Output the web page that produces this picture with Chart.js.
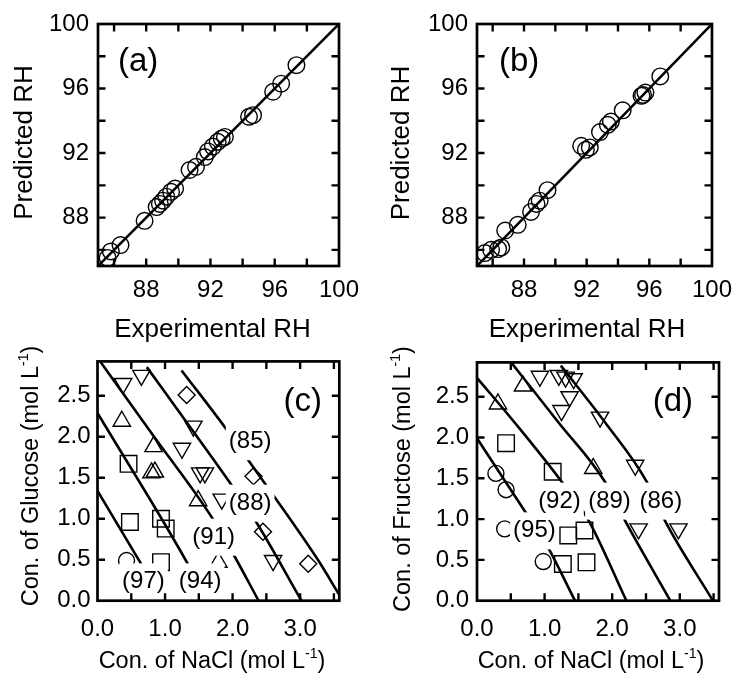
<!DOCTYPE html>
<html>
<head>
<meta charset="utf-8">
<script src="https://cdn.jsdelivr.net/npm/chart.js@4.4.1/dist/chart.umd.min.js"></script>
<style>
  html, body { margin: 0; padding: 0; background: #fff; }
  #wrap { position: relative; width: 742px; height: 675px; overflow: hidden; background: #fff; }
  #wrap canvas { position: absolute; }
</style>
</head>
<body>
<div id="wrap">
  <canvas id="pa" width="371" height="350" style="left:0px;top:0px"></canvas>
  <canvas id="pb" width="371" height="350" style="left:371px;top:0px"></canvas>
  <canvas id="pc" width="371" height="335" style="left:0px;top:340px"></canvas>
  <canvas id="pd" width="371" height="335" style="left:371px;top:340px"></canvas>
</div>
<script>
const FONT = "'Liberation Sans', Arial, Helvetica, sans-serif";

// ---- axis ticks ----
const rhTicks = [86, 88, 90, 92, 94, 96, 98, 100];
const rhTickLabels = ['', '88', '', '92', '', '96', '', '100'];
const naclTicks = [0, 0.5, 1, 1.5, 2, 2.5, 3, 3.5];
const naclTickLabels = ['0.0', '', '1.0', '', '2.0', '', '3.0', ''];
const sugarTicks = [0, 0.5, 1, 1.5, 2, 2.5];
const sugarTickLabels = ['0.0', '0.5', '1.0', '1.5', '2.0', '2.5'];

// ---- (a) glucose + NaCl: experimental vs predicted RH ----
const expRH_glucose  = [85.6, 85.8, 86.4, 87.9, 88.65, 88.85, 89.05, 89.25, 89.55, 89.8, 90.7, 91.1, 91.65, 91.85, 92.15, 92.45, 92.7, 92.9, 94.4, 94.65, 95.9, 96.4, 97.35];
const predRH_glucose = [85.5, 85.9, 86.3, 87.8, 88.65, 88.85, 89.05, 89.3, 89.6, 89.8, 90.95, 91.15, 91.75, 92.1, 92.4, 92.7, 92.9, 93.0, 94.25, 94.35, 95.8, 96.3, 97.45];

// ---- (b) fructose + NaCl: experimental vs predicted RH ----
const expRH_fructose  = [85.5, 85.9, 86.35, 86.55, 86.8, 87.6, 88.45, 88.8, 89.0, 89.5, 91.65, 91.95, 92.2, 92.85, 93.35, 93.55, 94.3, 95.5, 95.75, 95.6, 96.7];
const predRH_fructose = [85.8, 86.0, 86.05, 86.15, 87.2, 87.55, 88.35, 88.85, 89.05, 89.7, 92.45, 92.2, 92.35, 93.3, 93.75, 93.95, 94.65, 95.55, 95.75, 95.6, 96.75];

// 1:1 line
const parityRH = [85, 100];

// ---- (c) glucose + NaCl compositions (mol/L), by marker ----
const gluCircleNaCl  = [0.43];
const gluCircleGlu   = [0.49];
const gluSquareNaCl  = [0.46, 0.48, 0.94, 1.01, 0.94];
const gluSquareGlu   = [1.67, 0.96, 1.00, 0.88, 0.47];
const gluUpNaCl      = [0.36, 0.83, 0.80, 0.85, 1.49, 1.79];
const gluUpGlu       = [2.19, 1.88, 1.56, 1.57, 1.22, 0.47];
const gluDownNaCl    = [0.38, 0.65, 1.25, 1.42, 1.52, 1.59, 1.84, 2.60];
const gluDownGlu     = [2.65, 2.75, 1.86, 2.13, 1.56, 1.56, 1.24, 0.49];
const gluDiamondNaCl = [1.32, 2.31, 2.45, 3.12];
const gluDiamondGlu  = [2.51, 1.52, 0.84, 0.45];

// (c) iso-RH curves
const gluCurve97NaCl = [0, 0.63, 0.97];
const gluCurve97Glu  = [1.34, 0.47, 0];
const gluCurve94NaCl = [0, 1.39, 1.62];
const gluCurve94Glu  = [2.29, 0.37, 0];
const gluCurve91NaCl = [0.03, 0.83, 1.69, 2.01, 2.385];
const gluCurve91Glu  = [2.93, 2.01, 1.02, 0.57, 0];
const gluCurve88NaCl = [0.73, 1.37, 2.01, 2.35, 3.02];
const gluCurve88Glu  = [2.85, 2.12, 1.38, 0.96, 0];
const gluCurve85NaCl = [1.245, 1.91, 2.21, 3.27, 3.58];
const gluCurve85Glu  = [2.81, 2.09, 1.74, 0.49, 0.07];
const gluCurveText   = ['(97)', '(94)', '(91)', '(88)', '(85)'];
const gluCurveTextX  = [0.68, 1.52, 1.72, 2.26, 2.26];
const gluCurveTextY  = [0.23, 0.23, 0.775, 1.19, 1.94];

// ---- (d) fructose + NaCl compositions (mol/L), by marker ----
const fruCircleNaCl = [0.28, 0.43, 0.41, 0.98];
const fruCircleFru  = [1.56, 1.36, 0.88, 0.48];
const fruSquareNaCl = [0.43, 1.12, 1.35, 1.59, 1.27, 1.62];
const fruSquareFru  = [1.93, 1.58, 0.80, 0.86, 0.45, 0.47];
const fruUpNaCl     = [0.31, 0.68, 1.72];
const fruUpFru      = [2.41, 2.63, 1.62];
const fruDownNaCl   = [0.93, 1.21, 1.31, 1.43, 1.37, 1.25, 1.82, 2.34, 2.39, 2.98];
const fruDownFru    = [2.75, 2.76, 2.74, 2.72, 2.50, 2.33, 2.25, 1.66, 0.88, 0.88];

// (d) iso-RH curves
const fruCurve95NaCl = [0, 0.80, 1.00, 1.45];
const fruCurve95Fru  = [1.99, 0.98, 0.73, 0];
const fruCurve92NaCl = [0, 0.55, 1.25, 1.64, 2.21];
const fruCurve92Fru  = [2.73, 2.19, 1.46, 1.00, 0];
const fruCurve89NaCl = [0.505, 1.20, 1.89, 2.19, 2.86];
const fruCurve89Fru  = [2.92, 2.19, 1.46, 0.98, 0];
const fruCurve86NaCl = [1.24, 1.89, 2.51, 2.78, 3.49];
const fruCurve86Fru  = [2.88, 2.19, 1.46, 0.98, 0];
const fruCurveText   = ['(95)', '(92)', '(89)', '(86)'];
const fruCurveTextX  = [0.85, 1.22, 1.96, 2.72];
const fruCurveTextY  = [0.856, 1.22, 1.22, 1.22];

// ---------------------------------------------------------------
const pts = (xs, ys) => xs.map((x, i) => ({ x, y: ys[i] }));

function markerSet(xs, ys, style, radius, rotation) {
  return {
    data: pts(xs, ys), showLine: false,
    pointStyle: style, pointRadius: radius, pointRotation: rotation || 0,
    pointBorderColor: '#000', pointBackgroundColor: 'rgba(0,0,0,0)',
    pointBorderWidth: 1.4, borderWidth: 1.4, borderColor: '#000',
    backgroundColor: 'rgba(0,0,0,0)'
  };
}
function curveSet(xs, ys) {
  return {
    data: pts(xs, ys), showLine: true, pointRadius: 0,
    borderColor: '#000', borderWidth: 2.6, cubicInterpolationMode: 'monotone'
  };
}

function richTitle(ctx, parts, size, x, y, rotated) {
  const supSize = size * 0.6;
  let total = 0;
  const widths = parts.map(p => {
    ctx.font = `${p.sup ? supSize : size}px ${FONT}`;
    const w = ctx.measureText(p.text).width;
    total += w;
    return w;
  });
  ctx.save();
  ctx.translate(x, y);
  if (rotated) ctx.rotate(-Math.PI / 2);
  ctx.fillStyle = '#000';
  ctx.textAlign = 'left';
  ctx.textBaseline = 'alphabetic';
  let cx = -total / 2;
  parts.forEach((p, i) => {
    ctx.font = `${p.sup ? supSize : size}px ${FONT}`;
    ctx.fillText(p.text, cx, p.sup ? -size * 0.42 : 0);
    cx += widths[i];
  });
  ctx.restore();
}

// frame, inward ticks on all four sides, titles, tag and curve labels
function decor(panel) {
  return {
    id: 'decor_' + panel.canvas,
    afterDatasetsDraw(chart) {
      const { ctx, scales: { x, y } } = chart;
      ctx.save();
      ctx.font = `24px ${FONT}`;
      ctx.textAlign = 'center';
      ctx.textBaseline = 'middle';
      (panel.notes || []).forEach(n => {
        const px = x.getPixelForValue(n.x), py = y.getPixelForValue(n.y);
        const w = ctx.measureText(n.text).width;
        ctx.fillStyle = '#fff';
        ctx.fillRect(px - w / 2 - 3, py - 18.5, w + 6, 37);
        ctx.fillStyle = '#000';
        ctx.fillText(n.text, px, py);
      });
      ctx.restore();
    },
    afterDraw(chart) {
      const { ctx, chartArea: a, scales: { x, y } } = chart;
      ctx.save();
      ctx.strokeStyle = '#000';
      ctx.lineCap = 'butt';
      // ticks
      const L = 7.5;
      ctx.lineWidth = 2.4;
      ctx.beginPath();
      x.ticks.forEach(t => {
        if (t.value <= x.min || t.value >= x.max) return;
        const px = x.getPixelForValue(t.value);
        ctx.moveTo(px, a.bottom); ctx.lineTo(px, a.bottom - L);
        ctx.moveTo(px, a.top); ctx.lineTo(px, a.top + L);
      });
      y.ticks.forEach(t => {
        if (t.value <= y.min || t.value >= y.max) return;
        const py = y.getPixelForValue(t.value);
        ctx.moveTo(a.left, py); ctx.lineTo(a.left + L, py);
        ctx.moveTo(a.right, py); ctx.lineTo(a.right - L, py);
      });
      ctx.stroke();
      // frame
      ctx.lineWidth = 2.7;
      ctx.strokeRect(a.left, a.top, a.right - a.left, a.bottom - a.top);
      // axis titles
      const xt = panel.xTitle, yt = panel.yTitle;
      richTitle(ctx, xt.parts, xt.size, xt.x, xt.y, false);
      richTitle(ctx, yt.parts, yt.size, yt.x, yt.y, true);
      // panel tag
      ctx.fillStyle = '#000';
      ctx.font = `33px ${FONT}`;
      ctx.textBaseline = 'alphabetic';
      ctx.textAlign = panel.tag.align;
      ctx.fillText(panel.tag.text, panel.tag.x, panel.tag.y);
      ctx.restore();
    }
  };
}

function axis(spec, horizontal, size) {
  return {
    type: 'linear', min: spec.min, max: spec.max,
    position: horizontal ? 'bottom' : 'left',
    grid: { display: false, drawTicks: false },
    border: { display: false },
    title: { display: false },
    afterBuildTicks: s => { s.ticks = spec.ticks.map(v => ({ value: v })); },
    afterFit: s => { if (horizontal) s.height = size; else s.width = size; },
    ticks: {
      autoSkip: false, maxRotation: 0, minRotation: 0,
      padding: spec.pad, color: '#000',
      font: { family: FONT, size: 24 },
      callback: (v, i) => spec.labels[i]
    }
  };
}

function build(panel) {
  const a = panel.area;
  new Chart(document.getElementById(panel.canvas), {
    type: 'scatter',
    data: { datasets: panel.datasets },
    options: {
      responsive: false, animation: false, devicePixelRatio: 1, events: [],
      layout: { padding: { left: 0, top: a.t, right: panel.w - a.r, bottom: 0 } },
      plugins: { legend: { display: false }, tooltip: { enabled: false } },
      scales: {
        x: axis(panel.x, true, panel.h - a.b),
        y: axis(panel.y, false, a.l)
      }
    },
    plugins: [decor(panel)]
  });
}

const notes = (t, xs, ys) => t.map((text, i) => ({ text, x: xs[i], y: ys[i] }));
const perMolL = (name) => [{ text: name + ' (mol L' }, { text: '-1', sup: true }, { text: ')' }];

build({
  canvas: 'pa', w: 371, h: 350, area: { l: 98, t: 24, r: 339, b: 266 },
  x: { min: 85, max: 100, ticks: rhTicks, labels: rhTickLabels, pad: 10 },
  y: { min: 85, max: 100, ticks: rhTicks, labels: rhTickLabels, pad: 9 },
  tag: { text: '(a)', x: 118, y: 71, align: 'left' },
  xTitle: { parts: [{ text: 'Experimental RH' }], size: 26, x: 212.5, y: 337 },
  yTitle: { parts: [{ text: 'Predicted RH' }], size: 26, x: 31.5, y: 142.5 },
  datasets: [
    markerSet(expRH_glucose, predRH_glucose, 'circle', 8.3),
    curveSet(parityRH, parityRH)
  ]
});

build({
  canvas: 'pb', w: 371, h: 350, area: { l: 106, t: 24, r: 348, b: 266 },
  x: { min: 85, max: 100, ticks: rhTicks, labels: rhTickLabels, pad: 10 },
  y: { min: 85, max: 100, ticks: rhTicks, labels: rhTickLabels, pad: 9 },
  tag: { text: '(b)', x: 128, y: 71, align: 'left' },
  xTitle: { parts: [{ text: 'Experimental RH' }], size: 26, x: 216, y: 337 },
  yTitle: { parts: [{ text: 'Predicted RH' }], size: 26, x: 38, y: 143 },
  datasets: [
    markerSet(expRH_fructose, predRH_fructose, 'circle', 8.3),
    curveSet(parityRH, parityRH)
  ]
});

build({
  canvas: 'pc', w: 371, h: 335, area: { l: 97.5, t: 19.3, r: 339.3, b: 260.7 },
  x: { min: 0, max: 3.58, ticks: naclTicks, labels: naclTickLabels, pad: 14 },
  y: { min: 0, max: 2.92, ticks: sugarTicks, labels: sugarTickLabels, pad: 7 },
  tag: { text: '(c)', x: 322, y: 71, align: 'right' },
  xTitle: { parts: perMolL('Con. of NaCl'), size: 23.5, x: 212, y: 328.3 },
  yTitle: { parts: perMolL('Con. of Glucose'), size: 23.5, x: 37.5, y: 136 },
  notes: notes(gluCurveText, gluCurveTextX, gluCurveTextY),
  datasets: [
    curveSet(gluCurve97NaCl, gluCurve97Glu),
    curveSet(gluCurve94NaCl, gluCurve94Glu),
    curveSet(gluCurve91NaCl, gluCurve91Glu),
    curveSet(gluCurve88NaCl, gluCurve88Glu),
    curveSet(gluCurve85NaCl, gluCurve85Glu),
    markerSet(gluCircleNaCl, gluCircleGlu, 'circle', 8),
    markerSet(gluSquareNaCl, gluSquareGlu, 'rect', 11.7),
    markerSet(gluUpNaCl, gluUpGlu, 'triangle', 10),
    markerSet(gluDownNaCl, gluDownGlu, 'triangle', 10, 180),
    markerSet(gluDiamondNaCl, gluDiamondGlu, 'rectRot', 8.5)
  ]
});

build({
  canvas: 'pd', w: 371, h: 335, area: { l: 106, t: 19.3, r: 348, b: 260.7 },
  x: { min: 0, max: 3.58, ticks: naclTicks, labels: naclTickLabels, pad: 14 },
  y: { min: 0, max: 2.92, ticks: sugarTicks, labels: sugarTickLabels, pad: 8 },
  tag: { text: '(d)', x: 322, y: 71, align: 'right' },
  xTitle: { parts: perMolL('Con. of NaCl'), size: 23.5, x: 220, y: 328.3 },
  yTitle: { parts: perMolL('Con. of Fructose'), size: 23.5, x: 38.5, y: 139 },
  notes: notes(fruCurveText, fruCurveTextX, fruCurveTextY),
  datasets: [
    curveSet(fruCurve95NaCl, fruCurve95Fru),
    curveSet(fruCurve92NaCl, fruCurve92Fru),
    curveSet(fruCurve89NaCl, fruCurve89Fru),
    curveSet(fruCurve86NaCl, fruCurve86Fru),
    markerSet(fruCircleNaCl, fruCircleFru, 'circle', 8),
    markerSet(fruSquareNaCl, fruSquareFru, 'rect', 11.7),
    markerSet(fruUpNaCl, fruUpFru, 'triangle', 10),
    markerSet(fruDownNaCl, fruDownFru, 'triangle', 10, 180)
  ]
});
</script>
</body>
</html>
